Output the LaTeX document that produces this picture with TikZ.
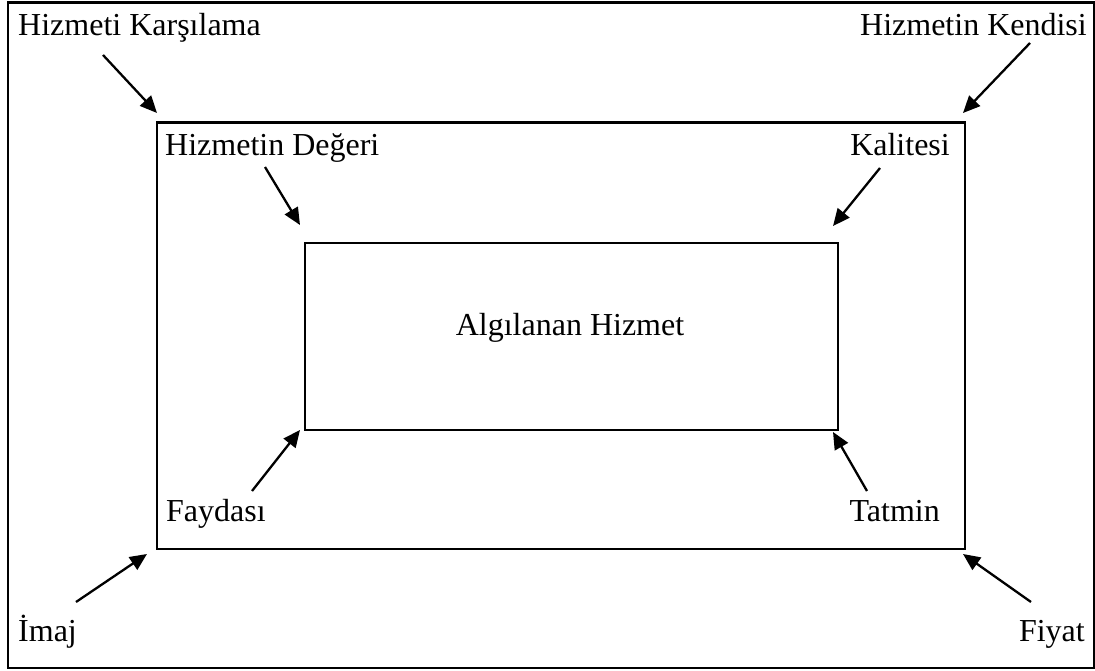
\documentclass[tikz,border=0pt]{standalone}
\usepackage{fontspec}
\setmainfont{Liberation Serif}
\usetikzlibrary{arrows.meta}
\begin{document}
\begin{tikzpicture}[x=1pt,y=-1pt,
  lbl/.style={inner sep=0pt,font=\fontsize{32}{38}\selectfont},
  frame/.style={draw=black,line width=2.3pt},
  arr/.style={line width=2.3pt,-{Triangle[length=17pt,width=15pt]}}]
\useasboundingbox (0,0) rectangle (1095,671);
\fill[white] (0,0) rectangle (1095,671);
% frames
\node[frame,inner sep=0pt,minimum width=1086pt,minimum height=665pt,anchor=north west] (outer) at (6.5,1.5) {};
\node[frame,inner sep=0pt,minimum width=808.5pt,minimum height=426.5pt,anchor=north west] (middle) at (155.5,121.5) {};
\node[frame,inner sep=0pt,minimum width=533pt,minimum height=186.5pt,anchor=north west] (inner) at (303.5,242) {};
% labels
\node[lbl,anchor=base west] (hk) at (18,36) {Hizmeti Karşılama};
\node[lbl,anchor=base east] (hkd) at (1087,36) {Hizmetin Kendisi};
\node[lbl,anchor=base west] (hd) at (165,156) {Hizmetin Değeri};
\node[lbl,anchor=base east] (ka) at (950,156) {Kalitesi};
\node[lbl,anchor=base] (ah) at (570,335) {Algılanan Hizmet};
\node[lbl,anchor=base west] (fa) at (166,521) {Faydası};
\node[lbl,anchor=base east] (ta) at (940,521) {Tatmin};
\node[lbl,anchor=base west] (im) at (18,641) {İmaj};
\node[lbl,anchor=base east] (fi) at (1085,641) {Fiyat};
% arrow ends
\coordinate (s1) at (103,55);   \coordinate (t1) at (157,113);
\coordinate (s2) at (1030,43);  \coordinate (t2) at (963,113);
\coordinate (s3) at (265,167);  \coordinate (t3) at (300,225);
\coordinate (s4) at (880,168);  \coordinate (t4) at (833,226);
\coordinate (s5) at (252,491);  \coordinate (t5) at (300,430);
\coordinate (s6) at (867,491);  \coordinate (t6) at (833,432);
\coordinate (s7) at (76,602);   \coordinate (t7) at (147,554);
\coordinate (s8) at (1031,602); \coordinate (t8) at (963,554);
\draw[arr] (s1) -- (t1);
\draw[arr] (s2) -- (t2);
\draw[arr] (s3) -- (t3);
\draw[arr] (s4) -- (t4);
\draw[arr] (s5) -- (t5);
\draw[arr] (s6) -- (t6);
\draw[arr] (s7) -- (t7);
\draw[arr] (s8) -- (t8);
\end{tikzpicture}
\end{document}
